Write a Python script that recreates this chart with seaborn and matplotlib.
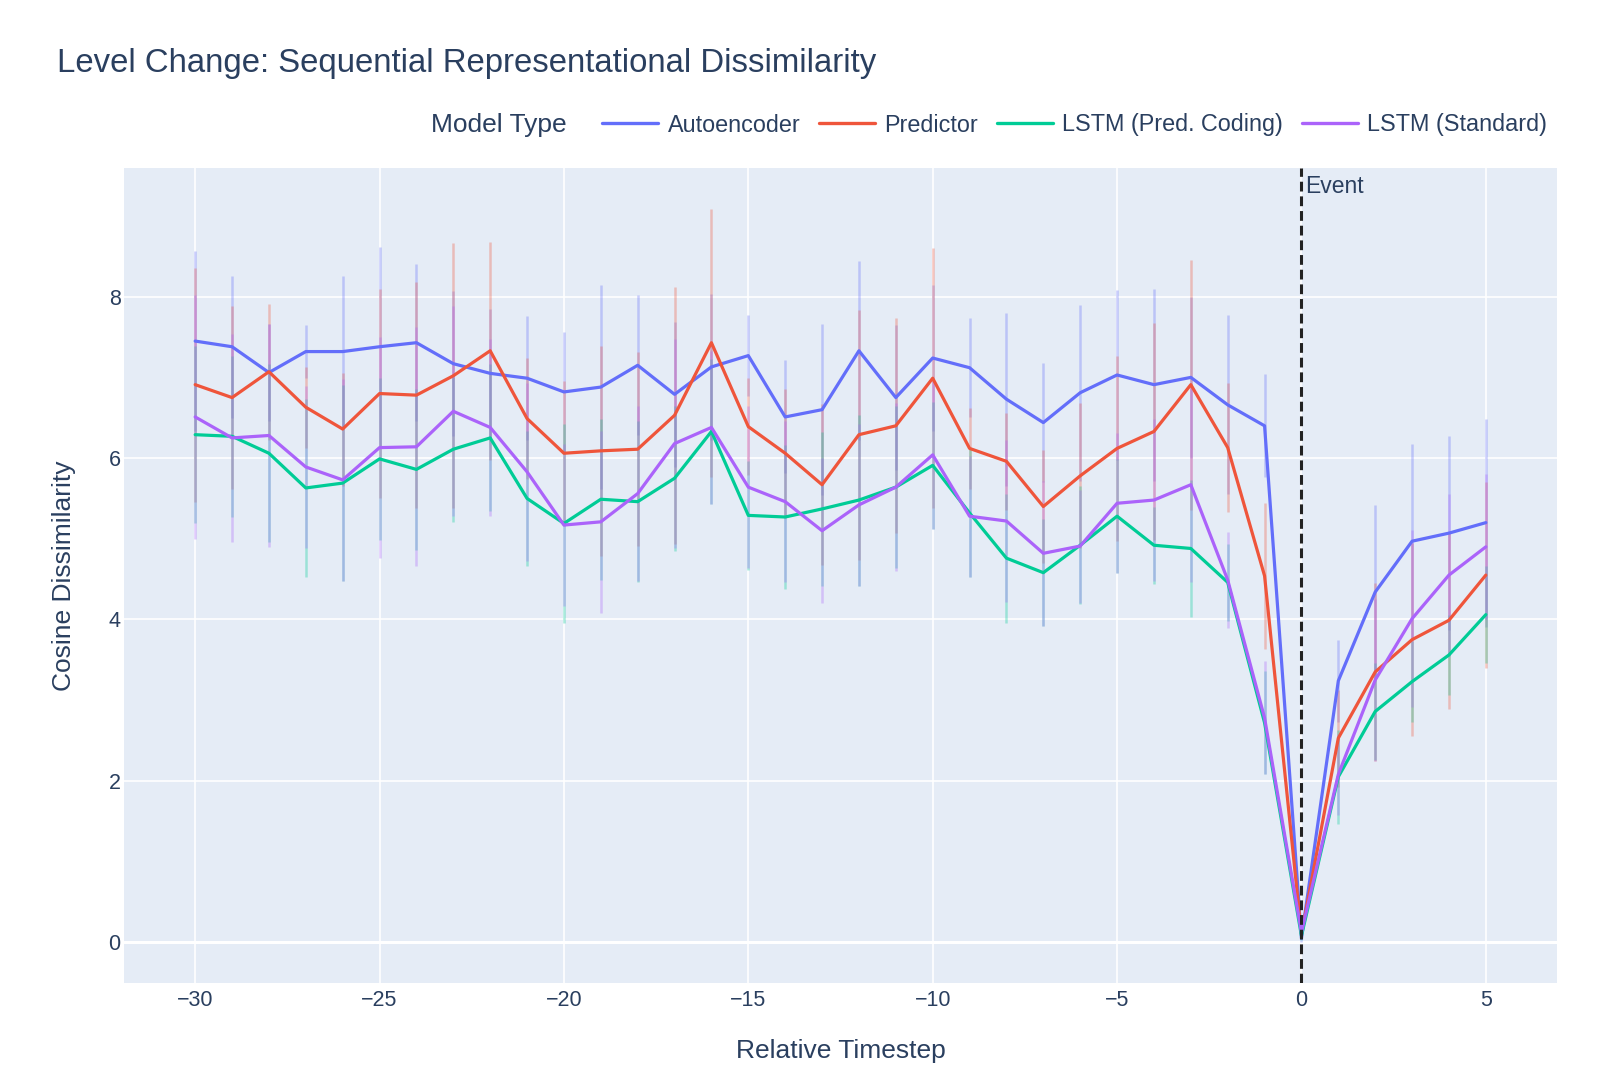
import numpy as np
import pandas as pd
import matplotlib
matplotlib.use("Agg")
import matplotlib.pyplot as plt
import seaborn as sns
from matplotlib.lines import Line2D
from matplotlib.transforms import blended_transform_factory

# ---------------- data ----------------
timesteps = list(range(-30, 6))
model_names = ["Autoencoder", "Predictor", "LSTM (Pred. Coding)", "LSTM (Standard)"]
colors = ["#636efa", "#EF553B", "#00cc96", "#ab63fa"]

autoencoder = [7.45, 7.38, 7.06, 7.32, 7.32, 7.38, 7.43, 7.17, 7.05, 6.99, 6.82, 6.88, 7.15,
               6.79, 7.13, 7.27, 6.51, 6.60, 7.33, 6.75, 7.24, 7.12, 6.73, 6.44, 6.81,
               7.03, 6.91, 7.00, 6.66, 6.40,
               0.05, 3.24, 4.34, 4.97, 5.07, 5.20]
predictor = [6.91, 6.75, 7.07, 6.63, 6.36, 6.80, 6.78, 7.02, 7.33, 6.49, 6.06, 6.09, 6.11,
             6.53, 7.43, 6.39, 6.06, 5.67, 6.29, 6.40, 6.99, 6.12, 5.96, 5.40, 5.78,
             6.12, 6.33, 6.91, 6.13, 4.54,
             0.10, 2.53, 3.35, 3.75, 3.99, 4.55]
lstm_pc = [6.29, 6.27, 6.06, 5.63, 5.69, 5.99, 5.86, 6.11, 6.25, 5.50, 5.19, 5.49, 5.46,
           5.75, 6.33, 5.29, 5.27, 5.37, 5.48, 5.64, 5.91, 5.32, 4.76, 4.58, 4.92,
           5.28, 4.92, 4.88, 4.46, 2.72,
           0.08, 2.05, 2.86, 3.23, 3.56, 4.06]
lstm_std = [6.51, 6.25, 6.28, 5.89, 5.73, 6.13, 6.14, 6.58, 6.38, 5.83, 5.17, 5.21, 5.56,
            6.18, 6.38, 5.64, 5.46, 5.10, 5.42, 5.64, 6.04, 5.28, 5.22, 4.82, 4.91,
            5.44, 5.48, 5.67, 4.49, 2.78,
            0.12, 2.08, 3.25, 4.01, 4.55, 4.90]

autoencoder_err = [1.12, 0.88, 0.60, 0.33, 0.94, 1.24, 0.97, 0.90, 0.80, 0.77, 0.74, 1.26, 0.87,
                   0.90, 0.90, 0.50, 0.70, 1.06, 1.11, 0.90, 0.90, 0.61, 1.07, 0.74, 1.09,
                   1.05, 1.19, 1.00, 1.11, 0.64,
                   0.05, 0.51, 1.08, 1.20, 1.20, 1.29]
predictor_err = [1.45, 1.13, 0.84, 0.50, 0.70, 1.30, 1.40, 1.64, 1.35, 0.75, 0.90, 1.30, 1.20,
                 1.59, 1.66, 0.60, 0.80, 1.00, 1.55, 1.33, 1.61, 0.50, 0.60, 0.70, 0.90,
                 1.15, 1.35, 1.55, 0.80, 0.90,
                 0.05, 0.60, 1.10, 1.20, 1.10, 1.15]
lstm_pc_err = [1.10, 1.00, 1.10, 1.10, 1.21, 1.00, 1.00, 0.90, 0.91, 0.84, 1.23, 1.00, 1.00,
               0.90, 0.90, 0.68, 0.89, 0.95, 1.06, 1.00, 0.79, 0.79, 0.80, 0.66, 0.73,
               0.71, 0.48, 0.85, 0.48, 0.64,
               0.05, 0.58, 0.60, 0.50, 0.50, 0.60]
lstm_std_err = [1.51, 1.29, 1.38, 1.00, 1.25, 1.37, 1.48, 1.30, 1.10, 1.10, 1.00, 1.13, 1.08,
                1.30, 0.95, 1.00, 1.00, 0.90, 1.00, 1.04, 0.92, 0.75, 1.00, 0.90, 0.70,
                0.87, 1.00, 1.20, 0.60, 0.70,
                0.05, 0.50, 1.00, 1.10, 1.00, 0.90]

x_ticks = [-30, -25, -20, -15, -10, -5, 0, 5]
y_ticks = [0, 2, 4, 6, 8]

series = [autoencoder, predictor, lstm_pc, lstm_std]
errors = [autoencoder_err, predictor_err, lstm_pc_err, lstm_std_err]

df = pd.concat([
    pd.DataFrame({"Relative Timestep": timesteps, "Cosine Dissimilarity": vals,
                  "err": errs, "Model Type": name})
    for name, vals, errs in zip(model_names, series, errors)
], ignore_index=True)

# ---------------- style ----------------
sns.set_theme(style="darkgrid", rc={
    "axes.facecolor": "#E5ECF6",
    "grid.color": "white",
    "grid.linewidth": 1.2,
    "axes.edgecolor": "#E5ECF6",
})
plt.rcParams["font.family"] = ["Liberation Sans", "DejaVu Sans"]
text_color = "#2a3f5f"

W, H = 1620, 1070
fig = plt.figure(figsize=(W / 100, H / 100), dpi=100)
ax_left, ax_right, ax_top, ax_bottom = 124, 1557, 168.4, 982.6
ax = fig.add_axes([ax_left / W, 1 - ax_bottom / H, (ax_right - ax_left) / W,
                   (ax_bottom - ax_top) / H])

for name, col in zip(model_names, colors):
    sub = df[df["Model Type"] == name]
    ax.errorbar(sub["Relative Timestep"], sub["Cosine Dissimilarity"], yerr=sub["err"],
                fmt="none", ecolor=col, alpha=0.32, elinewidth=1.8, capsize=0, zorder=2)
    sns.lineplot(data=sub, x="Relative Timestep", y="Cosine Dissimilarity",
                 color=col, linewidth=2.3, ax=ax, legend=False, sort=False,
                 errorbar=None, zorder=3)

ax.axvline(0, color="#222222", linestyle=(0, (3.2, 1.6)), linewidth=2.2, zorder=4)
trans = blended_transform_factory(ax.transData, ax.transAxes)
ax.annotate("Event", xy=(0, 1), xycoords=trans, xytext=(3, -5), textcoords="offset points",
            ha="left", va="top", fontsize=16.5, color=text_color)

ax.set_xlim(-31.93, 6.93)
ax.set_ylim(-0.5, 9.59)
ax.set_xticks(x_ticks)
ax.set_yticks(y_ticks)
ax.tick_params(axis="both", length=0, labelsize=15.5, colors=text_color)
ax.tick_params(axis="x", pad=5.5)
ax.tick_params(axis="y", pad=2.5)
ax.axhline(0, color="white", linewidth=2.2, zorder=1)
for s in ax.spines.values():
    s.set_visible(False)

ax.set_xlabel("Relative Timestep", fontsize=19, color=text_color)
ax.set_ylabel("Cosine Dissimilarity", fontsize=19, color=text_color)
ax_w = ax_right - ax_left
ax_h = ax_bottom - ax_top
ax.xaxis.set_label_coords(0.5, (ax_bottom - 1051) / ax_h)
ax.xaxis.label.set_va("center")
ax.yaxis.set_label_coords((64 - ax_left) / ax_w, 0.5)
ax.yaxis.label.set_va("center")

fig.text(57 / W, 1 - 72 / H, "Level Change: Sequential Representational Dissimilarity",
         fontsize=23.7, color=text_color, ha="left", va="baseline")

handles = [Line2D([0], [0], color=c, linewidth=2.4) for c in colors]
leg = fig.legend(handles, model_names, loc="center right",
                 bbox_to_anchor=(1547 / W, 1 - 125 / H), ncol=4, frameon=False,
                 fontsize=16.8, handlelength=2.4, handletextpad=0.4, columnspacing=0.8,
                 borderaxespad=0, borderpad=0)
for t in leg.get_texts():
    t.set_color(text_color)
fig.text(431 / W, 1 - 125 / H, "Model Type", fontsize=19, color=text_color,
         ha="left", va="center")

fig.savefig("out.png", dpi=100, facecolor="white")
